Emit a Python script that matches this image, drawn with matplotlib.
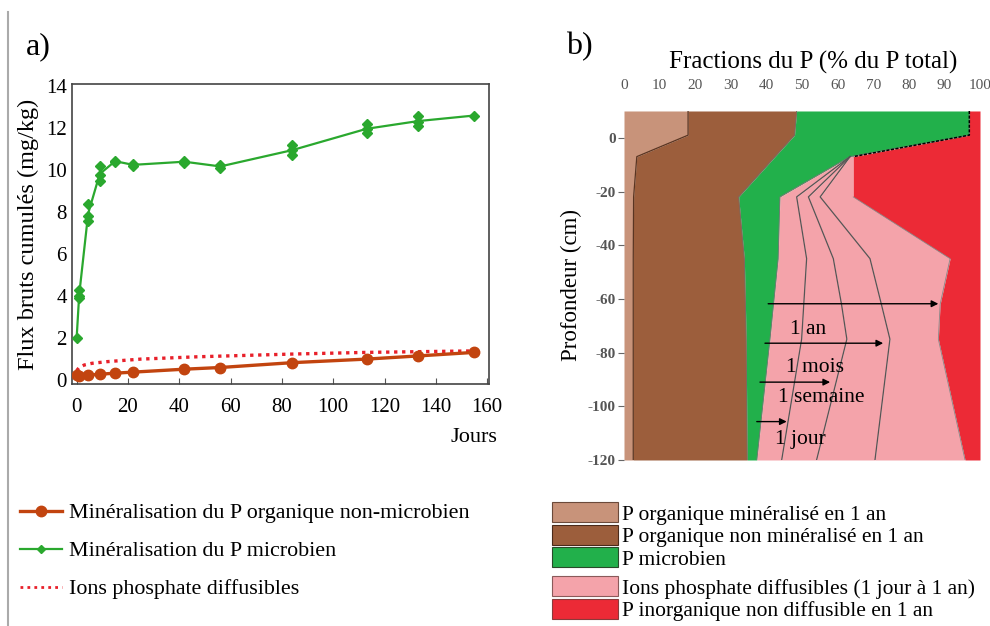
import matplotlib
matplotlib.use('Agg')
import matplotlib.pyplot as plt
from matplotlib.lines import Line2D
from matplotlib.patches import Patch
import numpy as np

plt.rcParams['font.family'] = ['Liberation Serif', 'DejaVu Serif']
plt.rcParams['axes.unicode_minus'] = False

# ---- panel a) : cumulated gross fluxes (mg/kg) vs days
days = [0, 1, 4.5, 9, 15, 22, 42, 56, 84, 113, 133, 155]
micro_reps = [[2.0], [4.3, 4.0, 3.9], [8.4, 7.8, 7.6], [10.2, 9.75, 9.5],
              [10.45, 10.4], [10.3, 10.2], [10.45, 10.35], [10.25, 10.1],
              [11.2, 10.95, 10.7], [12.2, 11.95, 11.75], [12.6, 12.3, 12.1], [12.6]]
org_days = [0, 1, 4.5, 9, 15, 22, 42, 56, 84, 113, 133, 155]
org_vals = [0.22, 0.2, 0.24, 0.28, 0.33, 0.38, 0.52, 0.6, 0.83, 1.0, 1.15, 1.32]
ions_days = [0, 1, 3, 6, 12, 25, 47, 84, 113, 155]
ions_vals = [0.45, 0.6, 0.72, 0.8, 0.88, 1.0, 1.11, 1.24, 1.32, 1.39]

# ---- panel b) : P fractions (% of total P) by depth (cm)
depth = [10, 1, -7, -22, -45, -62, -75, -120]
org_min = [18, 18, 3.6, 2.7, 2.6, 2.6, 2.6, 2.6]
org_nonmin = [30.5, 29.9, 38.8, 29.5, 31.2, 31.5, 31.7, 32.0]
microbien = [48.5, 49.1, 21.1, 11.6, 9.5, 7.9, 6.7, 2.7]
diff_jour = [0, 0, 0, 4.7, 8.0, 8.5, 8.9, 7.0]
diff_semaine = [0, 0, 0, 3.3, 7.5, 10.6, 12.7, 9.8]
diff_mois = [0, 0, 0, 3.3, 10.3, 11.2, 12.1, 16.4]
diff_an = [0, 0, 0.9, 9.3, 22.5, 16.5, 13.6, 25.3]
inorg = [3, 3, 35.6, 35.6, 8.4, 11.2, 11.7, 4.2]

arrow_labels = ['1 an', '1 mois', '1 semaine', '1 jour']
arrow_depth = [-61.8, -76.5, -91, -105.7]
arrow_start = [40.5, 39.6, 38.2, 37.3]
arrow_end = [88.3, 72.8, 57.9, 45.7]
label_pos = [(51.8, -71.3), (53.7, -85.7), (55.5, -96.8), (49.5, -112.4)]

GREEN = '#2aa82e'
BROWN = '#c2440f'
RED = '#e8202a'
C_LB, C_DB, C_GR, C_PK, C_RD = '#c8937a', '#9c5e3c', '#22b04b', '#f4a3aa', '#ec2a36'

fig = plt.figure(figsize=(9.9, 6.26), dpi=100)

# ================= a)
ax = fig.add_axes([0.0730, 0.3861, 0.4209, 0.4797])
mean_micro = [np.mean(r) for r in micro_reps]
ax.plot(days, mean_micro, color=GREEN, lw=1.6, zorder=3)
for d, reps in zip(days, micro_reps):
    ax.plot([d] * len(reps), reps, linestyle='none', marker='D', ms=5.5,
            color=GREEN, zorder=4)
ax.plot(ions_days, ions_vals, color=RED, lw=2.4, linestyle=(0, (1, 1.4)), zorder=2)
ax.plot(org_days, org_vals, color=BROWN, lw=2.4, marker='o', ms=7.5, zorder=3)

ax.set_xlim(-1.7, 160.7)
ax.set_ylim(-0.2, 14.1)
ax.set_xticks(range(0, 161, 20))
ax.set_yticks(range(0, 15, 2))
ax.tick_params(axis='x', direction='in', length=4, pad=10, labelsize=15, color='#555')
ax.tick_params(axis='y', length=0, pad=4, labelsize=15)
for s in ax.spines.values():
    s.set_color('#444')
    s.set_linewidth(1.2)
ax.set_ylabel('Flux bruts cumulés (mg/kg)', fontsize=17.5, labelpad=5)
fig.text(497 / 990, 1 - 437 / 626, 'Jours', fontsize=16, ha='right', va='center')
fig.text(26 / 990, 1 - 47 / 626, 'a)', fontsize=23, ha='left', va='center')

h_left = [
    Line2D([], [], color=BROWN, lw=2.4, marker='o', ms=7.5),
    Line2D([], [], color=GREEN, lw=1.6, marker='D', ms=4.5),
    Line2D([], [], color=RED, lw=2, linestyle=(0, (1, 1.5))),
]
l_left = ['Minéralisation du P organique non-microbien',
          'Minéralisation du P microbien',
          'Ions phosphate diffusibles']
fig.legend(h_left, l_left, loc='upper left', bbox_to_anchor=(20 / 990, 1 - 503 / 626),
           frameon=False, fontsize=15.8, handlelength=1.9, handletextpad=0.35,
           labelspacing=0.8, borderpad=0, borderaxespad=0)

# ================= b)
bx = fig.add_axes([0.6303, 0.2652, 0.3596, 0.5575])
widths = np.array([org_min, org_nonmin, microbien, diff_jour, diff_semaine,
                   diff_mois, diff_an, inorg])
cum = np.vstack([np.zeros(len(depth)), np.cumsum(widths, axis=0)])
fills = [C_LB, C_DB, C_GR, C_PK, C_PK, C_PK, C_PK, C_RD]
for i, c in enumerate(fills):
    bx.fill_betweenx(depth, cum[i], cum[i + 1], color=c, lw=0)
# boundary lines
bx.plot(cum[1], depth, color='#5a3522', lw=0.9)
bx.plot(cum[2], depth, color='#7a6a60', lw=0.7)
bx.plot(cum[3], depth, color='#777777', lw=0.6)
for k in (4, 5, 6):
    bx.plot(cum[k][2:], depth[2:], color='#555555', lw=0.9)
bx.plot(cum[7][3:], depth[3:], color='#888888', lw=0.6)
bx.plot(cum[7][:3], depth[:3], color='black', lw=1.1, linestyle=(0, (2, 1)))

for lab, yd, x0, x1, (tx, ty) in zip(arrow_labels, arrow_depth, arrow_start,
                                      arrow_end, label_pos):
    bx.annotate('', xy=(x1, yd), xytext=(x0, yd),
                arrowprops=dict(arrowstyle='-|>', color='black', lw=1.0,
                                mutation_scale=10, shrinkA=0, shrinkB=0))
    bx.text(tx, ty, lab, fontsize=15.5, ha='center', va='center')

bx.set_xlim(0, 100)
bx.set_ylim(-120, 10)
bx.xaxis.tick_top()
bx.set_xticks(range(0, 101, 10))
bx.set_yticks(range(0, -121, -20))
bx.tick_params(axis='x', length=0, pad=14, labelsize=11, labelcolor='#555')
bx.tick_params(axis='y', length=4, pad=2, labelsize=11, labelcolor='#555', color='#666')
for t in bx.get_yticklabels():
    t.set_fontweight('bold')
for s in bx.spines.values():
    s.set_visible(False)
bx.set_ylabel('Profondeur (cm)', fontsize=16.5, labelpad=4)
fig.text(813 / 990, 1 - 62 / 626, 'Fractions du P (% du P total)', fontsize=18,
         ha='center', va='center')
fig.text(566 / 990, 1 - 47 / 626, 'b)', fontsize=23, ha='left', va='center')

h_r1 = [Patch(facecolor=C_LB, edgecolor='#6b4a3a', lw=0.8),
        Patch(facecolor=C_DB, edgecolor='#4a2a1a', lw=0.8),
        Patch(facecolor=C_GR, edgecolor='#2a4a2a', lw=0.8)]
l_r1 = ['P organique minéralisé en 1 an', 'P organique non minéralisé en 1 an',
        'P microbien']
h_r2 = [Patch(facecolor=C_PK, edgecolor='#8a5a5a', lw=0.8),
        Patch(facecolor=C_RD, edgecolor='#8a3a3a', lw=0.8)]
l_r2 = ['Ions phosphate diffusibles (1 jour à 1 an)', 'P inorganique non diffusible en 1 an']
fig.legend(h_r1, l_r1, loc='upper left', bbox_to_anchor=(552 / 990, 1 - 502 / 626),
           frameon=False, fontsize=15.5, handlelength=3.05, handleheight=1.08,
           handletextpad=0.2, labelspacing=0, borderpad=0, borderaxespad=0)
fig.legend(h_r2, l_r2, loc='upper left', bbox_to_anchor=(552 / 990, 1 - 576 / 626),
           frameon=False, fontsize=15.5, handlelength=3.05, handleheight=1.08,
           handletextpad=0.2, labelspacing=0, borderpad=0, borderaxespad=0)

# page frame edge on the left
fig.add_artist(Line2D([8 / 990, 8 / 990], [0, 1 - 12 / 626], color='#aaaaaa', lw=1.5))

fig.savefig('out.png', dpi=100)
